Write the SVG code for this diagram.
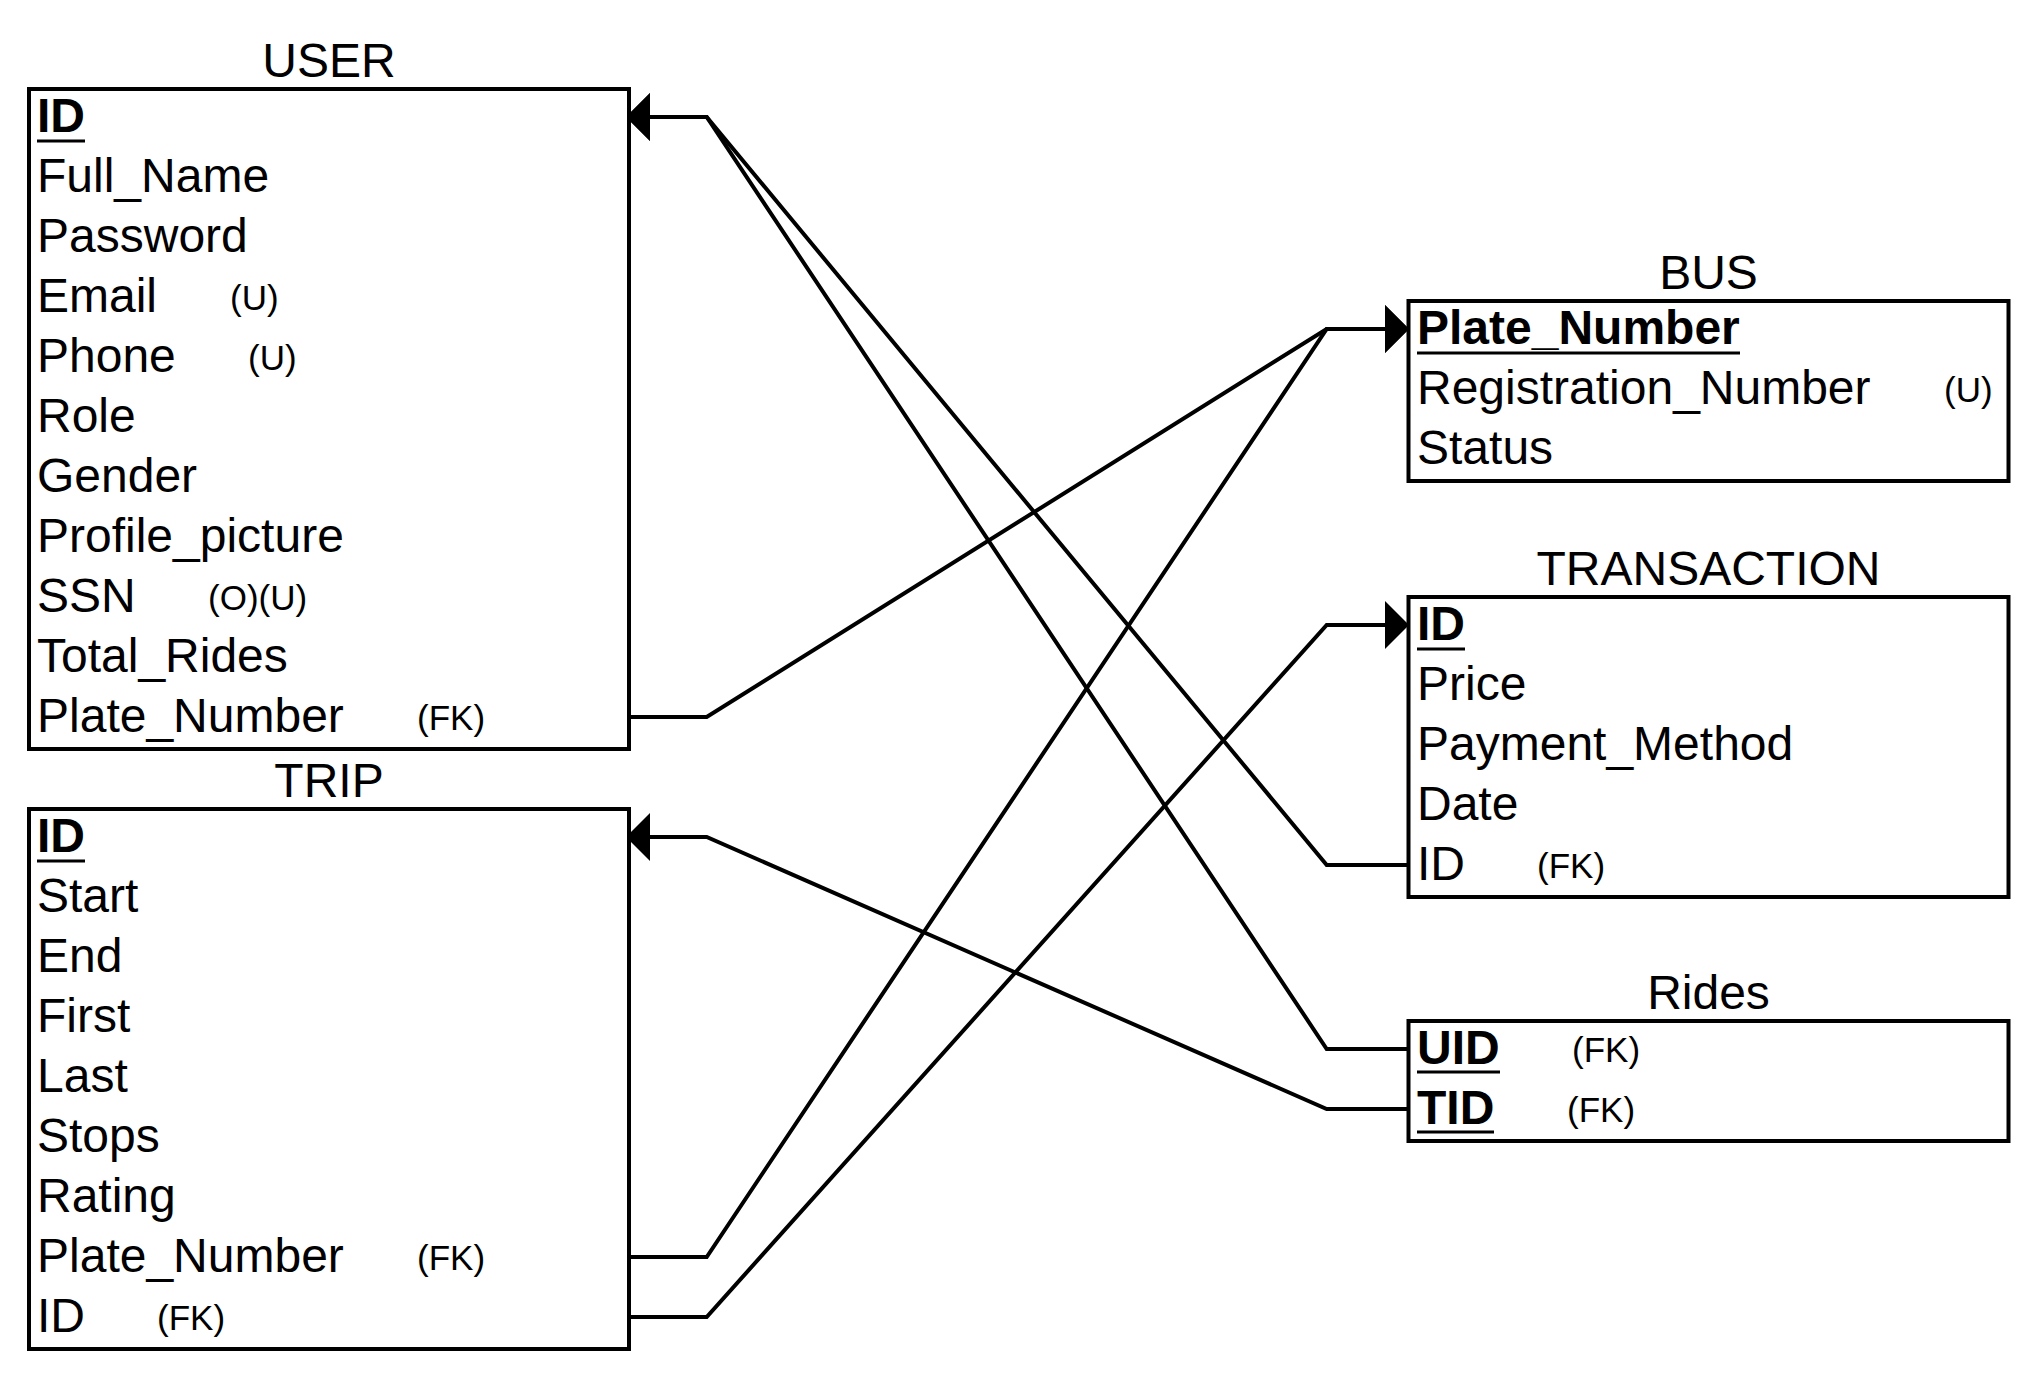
<svg xmlns="http://www.w3.org/2000/svg" width="2036" height="1376" viewBox="0 0 2036 1376">
<style>
text{font-family:"Liberation Sans",Arial,sans-serif;fill:#000}
.t{font-size:48px;text-anchor:middle}
.r{font-size:48px}
.b{font-size:48px;font-weight:bold}
.a{font-size:35px}
.box{fill:#fff;stroke:#000;stroke-width:4}
.ul{stroke:#000;stroke-width:3}
.c{fill:none;stroke:#000;stroke-width:4;stroke-linejoin:miter}
.ca{fill:none;stroke:#000;stroke-width:4;marker-end:url(#arr)}
</style>
<defs>
<marker id="arr" viewBox="0 0 24 48" refX="0" refY="24" markerWidth="24" markerHeight="48" markerUnits="userSpaceOnUse" orient="auto">
<path d="M0,0 L24,24 L0,48 Z" fill="#000"/>
</marker>
</defs>
<rect width="2036" height="1376" fill="#fff"/>
<g id="connectors">
<path class="ca" d="M629,717 H706.7 L1326.7,329 H1385"/>
<path class="ca" d="M629,1257 H706.7 L1326.7,329 H1385"/>
<path class="ca" d="M629,1317 H706.7 L1326.7,625 H1385"/>
<path class="ca" d="M1408.5,865 H1326.7 L706.7,117 H650"/>
<path class="ca" d="M1408.5,1049 H1326.7 L706.7,117 H650"/>
<path class="ca" d="M1408.5,1109 H1326.7 L706.7,837 H650"/>
</g>
<g id="user">
<text class="t" x="329" y="77">USER</text>
<rect class="box" x="29" y="89" width="600" height="660"/>
<text class="b" x="37" y="132">ID</text>
<line class="ul" x1="37" y1="141" x2="85" y2="141"/>
<text class="r" x="37" y="192">Full_Name</text>
<text class="r" x="37" y="252">Password</text>
<text class="r" x="37" y="312">Email</text><text class="a" x="230" y="310">(U)</text>
<text class="r" x="37" y="372">Phone</text><text class="a" x="248" y="370">(U)</text>
<text class="r" x="37" y="432">Role</text>
<text class="r" x="37" y="492">Gender</text>
<text class="r" x="37" y="552">Profile_picture</text>
<text class="r" x="37" y="612">SSN</text><text class="a" x="208" y="610">(O)(U)</text>
<text class="r" x="37" y="672">Total_Rides</text>
<text class="r" x="37" y="732">Plate_Number</text><text class="a" x="417" y="730">(FK)</text>
</g>
<g id="trip">
<text class="t" x="329" y="797">TRIP</text>
<rect class="box" x="29" y="809" width="600" height="540"/>
<text class="b" x="37" y="852">ID</text>
<line class="ul" x1="37" y1="861" x2="85" y2="861"/>
<text class="r" x="37" y="912">Start</text>
<text class="r" x="37" y="972">End</text>
<text class="r" x="37" y="1032">First</text>
<text class="r" x="37" y="1092">Last</text>
<text class="r" x="37" y="1152">Stops</text>
<text class="r" x="37" y="1212">Rating</text>
<text class="r" x="37" y="1272">Plate_Number</text><text class="a" x="417" y="1270">(FK)</text>
<text class="r" x="37" y="1332">ID</text><text class="a" x="157" y="1330">(FK)</text>
</g>
<g id="bus">
<text class="t" x="1708.5" y="289">BUS</text>
<rect class="box" x="1408.5" y="301" width="600" height="180"/>
<text class="b" x="1417" y="344">Plate_Number</text>
<line class="ul" x1="1417" y1="353" x2="1740" y2="353"/>
<text class="r" x="1417" y="404">Registration_Number</text><text class="a" x="1944" y="402">(U)</text>
<text class="r" x="1417" y="464">Status</text>
</g>
<g id="transaction">
<text class="t" x="1708.5" y="585">TRANSACTION</text>
<rect class="box" x="1408.5" y="597" width="600" height="300"/>
<text class="b" x="1417" y="640">ID</text>
<line class="ul" x1="1417" y1="649" x2="1465" y2="649"/>
<text class="r" x="1417" y="700">Price</text>
<text class="r" x="1417" y="760">Payment_Method</text>
<text class="r" x="1417" y="820">Date</text>
<text class="r" x="1417" y="880">ID</text><text class="a" x="1537" y="878">(FK)</text>
</g>
<g id="rides">
<text class="t" x="1708.5" y="1009">Rides</text>
<rect class="box" x="1408.5" y="1021" width="600" height="120"/>
<text class="b" x="1417" y="1064">UID</text>
<line class="ul" x1="1417" y1="1072" x2="1500" y2="1072"/>
<text class="a" x="1572" y="1062">(FK)</text>
<text class="b" x="1417" y="1124">TID</text>
<line class="ul" x1="1417" y1="1132" x2="1494" y2="1132"/>
<text class="a" x="1567" y="1122">(FK)</text>
</g>
</svg>
